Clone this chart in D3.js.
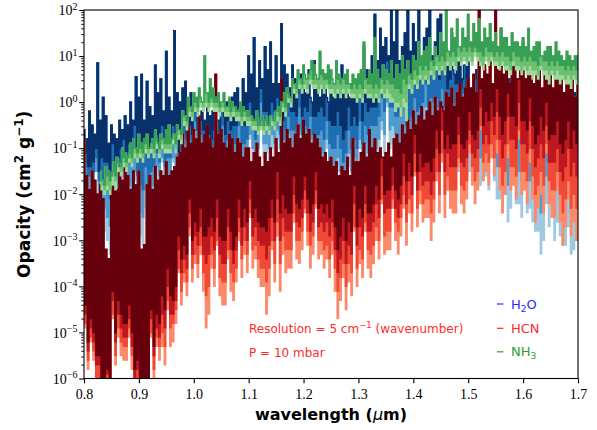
<!DOCTYPE html>
<html>
<head>
<meta charset="utf-8">
<script src="https://cdn.jsdelivr.net/npm/d3@7"></script>
<style>
  body { margin: 0; background: #fff; }
  svg { display: block; }
</style>
</head>
<body>
<svg id="chart" width="597" height="430"></svg>
<script>
// Opacity spectra at P = 10 mbar, binned to 5 cm^-1.
// Values are log10(opacity / cm^2 g^-1). Maxima are listed every 0.005 um from
// the first wavelength; minima sit half-way between consecutive maxima, one
// list per temperature shade (coolest first).

const h2oStart = 0.80;
const h2oPeaks = [
  -0.6, -0.8, -0.2, -0.5, -0.7, 0.85, -0.4, 0.1, -0.3, -0.9,
  -0.5, -0.7, -0.8, -0.4, -0.6, -0.3, -0.5, 0.0, -0.4, 0.55,
  0.1, 0.6, -0.4, 0.45, -0.1, -0.3, 0.8, 0.2, 0.5, -0.2,
  1.1, 0.1, -0.2, 1.55, 0.2, 0.0, 0.3, 0.45, -0.1, 0.2,
  0.2, -0.1, -0.3, -0.2, -0.4, -0.1, -0.3, -0.2, -0.1, -0.4,
  -0.2, -0.3, 0.0, -0.2, 0.1, 0.2, 0.3, -0.1, 0.5, 0.2,
  1.0, 0.6, 1.4, 0.3, 0.9, 0.5, 1.2, 0.7, 1.3, 0.4,
  1.0, 0.4, 1.7, 0.8, 0.6, 0.3, 0.8, 0.5, 0.2, 0.6,
  0.5, 0.2, 0.7, 0.0, 0.9, 0.3, 0.1, 0.4, 0.6, 0.0,
  0.4, 0.1, 0.2, 0.3, 0.8, 0.5, 0.7, 0.1, 0.2, 0.4,
  0.6, 0.3, 1.2, 0.7, 0.6, 1.0, 1.9, 0.9, 1.6, 1.2,
  1.4, 1.0, 2.0, 1.3, 2.1, 0.9, 1.2, 1.5, 2.1, 1.1,
  1.7, 1.3, 2.1, 0.9, 1.4, 1.6, 2.1, 1.0, 1.3, 1.8,
  1.9, 0.8, 1.2, 1.0, 1.5, 0.6, 1.1, 0.9, 0.5, 0.8,
  0.9, 0.3, 0.5, 0.7, 0.2, 0.4, 0.7, 0.1, 0.4, 0.3,
  0.6, 0.0, 0.3, 0.4, 0.1, 0.5, 0.2, 0.0, 0.4, 0.1,
  0.1, 0.2, -0.1, 0.3, 0.0, -0.2, 0.2, 0.1, -0.1, 0.0,
  1.1, 0.2, -0.1, 0.3, 0.0, -0.2, 0.4, 0.1, -0.1, 0.2,
  0.0
];
const h2oTroughLight = [
  -1.6, -2.1, -2.2, -2.0, -1.4, -2.2, -2.6, -2.8, -3.0, -3.3, -1.8, -2.4, -2.3, -2.0, -1.6, -2.1, -2.1, -2.3, -1.7, -2.6,
  -2.9, -3.1, -2.3, -2.9, -2.4, -2.2, -1.7, -2.0, -1.3, -2.1, -1.9, -1.9, -1.3, -1.8, -2.0, -1.7, -1.0, -1.6, -1.2, -1.5,
  -0.6, -1.4, -1.2, -1.5, -1.4, -1.4, -2.3, -2.0, -2.5, -3.0, -2.5, -3.4, -2.9, -3.2, -3.5, -3.5, -1.9, -2.5, -1.8, -1.6,
  -0.8, -1.3, -1.6, -1.4, -0.4, -1.2, -1.1, -1.3, -1.0, -1.3, -0.8, -1.4, -1.6, -1.3, -0.9, -1.4, -1.3, -1.5, -0.7, -1.6,
  -1.3, -1.5, -1.0, -1.6, -1.9, -1.7, -1.5, -1.8, -1.0, -1.8, -1.9, -1.9, -1.5, -2.0, -2.3, -2.0, -1.4, -2.0, -1.6, -1.9,
  -1.0, -1.8, -1.3, -1.6, -1.4, -1.4, -1.5, -1.2, -0.6, -1.1, -0.1, -1.0, -0.9, -1.2, -1.6, -1.6, -1.4, -2.0, -2.0, -1.8,
  -1.0, -1.5, -1.5, -1.3, -0.4, -1.2, -1.1, -1.3, -1.1, -1.4, -0.9, -1.5, -1.9, -1.6, -1.2, -1.7, -1.5, -1.7, -0.7, -1.6,
  -1.5, -1.7, -1.2, -1.8, -1.8, -1.6, -1.6, -1.9, -0.9, -1.7, -2.1, -2.1, -1.5, -2.0, -2.6, -2.3, -1.6, -2.2, -2.2, -2.5,
  -1.6, -2.4, -2.3, -2.6, -2.8, -2.8, -3.3, -3.0, -2.2, -2.7, -2.1, -3.0, -2.6, -2.9, -3.1, -3.1, -2.7, -3.3, -3.2, -3.0
];
const h2oTroughMid2 = [
  -1.6, -1.9, -1.9, -1.8, -1.5, -2.0, -2.2, -2.3, -2.5, -2.7, -1.6, -2.0, -1.9, -1.7, -1.5, -1.8, -1.8, -1.9, -1.5, -2.1,
  -2.4, -2.5, -1.9, -2.3, -1.9, -1.8, -1.4, -1.6, -1.2, -1.7, -1.6, -1.6, -1.2, -1.5, -1.6, -1.4, -0.9, -1.3, -1.0, -1.2,
  -0.6, -1.1, -1.0, -1.2, -1.2, -1.2, -1.6, -1.4, -1.3, -1.6, -1.1, -1.7, -1.4, -1.6, -1.5, -1.5, -0.9, -1.3, -1.3, -1.2,
  -0.7, -1.0, -1.1, -1.0, -0.4, -0.9, -0.9, -1.0, -0.7, -0.9, -0.6, -1.0, -1.1, -0.9, -0.7, -1.0, -1.0, -1.1, -0.6, -1.2,
  -1.0, -1.1, -0.8, -1.2, -1.3, -1.2, -1.1, -1.3, -0.8, -1.3, -1.4, -1.4, -1.2, -1.5, -1.7, -1.5, -1.1, -1.5, -1.2, -1.4,
  -0.8, -1.3, -0.9, -1.1, -1.0, -1.0, -1.0, -0.8, -0.4, -0.7, 0.0, -0.6, -0.5, -0.7, -0.9, -0.9, -0.8, -1.2, -1.2, -1.1,
  -0.5, -0.8, -0.8, -0.7, -0.1, -0.6, -0.6, -0.7, -0.6, -0.8, -0.4, -0.8, -1.1, -0.9, -0.7, -1.0, -0.9, -1.0, -0.4, -1.0,
  -1.0, -1.1, -0.8, -1.2, -1.2, -1.1, -1.0, -1.2, -0.7, -1.2, -1.4, -1.4, -1.1, -1.4, -1.8, -1.6, -1.2, -1.6, -1.5, -1.7,
  -1.2, -1.7, -1.7, -1.9, -2.0, -2.0, -2.4, -2.2, -1.6, -1.9, -1.6, -2.2, -1.9, -2.1, -2.2, -2.2, -2.0, -2.4, -2.3, -2.2
];
const h2oTroughMid1 = [
  -1.3, -1.6, -1.6, -1.5, -1.2, -1.7, -1.7, -1.8, -1.9, -2.1, -1.3, -1.7, -1.5, -1.3, -1.1, -1.4, -1.3, -1.4, -1.0, -1.6,
  -1.8, -1.9, -1.4, -1.8, -1.5, -1.4, -1.1, -1.3, -0.9, -1.4, -1.2, -1.2, -0.8, -1.1, -1.4, -1.2, -0.7, -1.1, -0.8, -1.0,
  -0.4, -0.9, -0.7, -0.9, -0.9, -0.9, -1.2, -1.0, -0.8, -1.1, -0.5, -1.1, -0.8, -1.0, -0.9, -0.9, -0.5, -0.9, -0.9, -0.8,
  -0.3, -0.6, -0.8, -0.7, 0.0, -0.5, -0.5, -0.6, -0.4, -0.6, -0.3, -0.7, -0.8, -0.6, -0.3, -0.6, -0.6, -0.7, -0.1, -0.7,
  -0.5, -0.6, -0.3, -0.7, -0.8, -0.7, -0.6, -0.8, -0.4, -0.9, -1.0, -1.0, -0.7, -1.0, -1.3, -1.1, -0.6, -1.0, -0.8, -1.0,
  -0.4, -0.9, -0.5, -0.7, -0.5, -0.5, -0.5, -0.3, 0.1, -0.2, 0.5, -0.1, -0.1, -0.3, -0.3, -0.3, -0.1, -0.5, -0.4, -0.3,
  0.1, -0.2, -0.1, 0.0, 0.4, -0.1, 0.1, 0.0, 0.1, -0.1, 0.3, -0.1, -0.4, -0.2, 0.0, -0.3, -0.3, -0.4, 0.2, -0.4,
  -0.3, -0.4, -0.1, -0.5, -0.6, -0.5, -0.4, -0.6, -0.1, -0.6, -0.7, -0.7, -0.5, -0.8, -1.0, -0.8, -0.5, -0.9, -0.8, -1.0,
  -0.5, -1.0, -0.9, -1.1, -1.1, -1.1, -1.5, -1.3, -0.9, -1.2, -0.7, -1.3, -1.2, -1.4, -1.4, -1.4, -1.2, -1.6, -1.5, -1.4
];
const h2oTroughHot = [
  -1.1, -1.4, -1.4, -1.3, -1.0, -1.5, -1.2, -1.3, -1.3, -1.5, -0.9, -1.3, -1.2, -1.0, -0.8, -1.1, -0.9, -1.0, -0.5, -1.1,
  -1.2, -1.3, -0.8, -1.2, -1.1, -1.0, -0.7, -0.9, -0.5, -1.0, -0.9, -0.9, -0.5, -0.8, -1.1, -0.9, -0.4, -0.8, -0.5, -0.7,
  -0.1, -0.6, -0.4, -0.6, -0.7, -0.7, -0.8, -0.6, -0.4, -0.7, -0.1, -0.7, -0.4, -0.6, -0.5, -0.5, -0.1, -0.5, -0.5, -0.4,
  0.0, -0.3, -0.4, -0.3, 0.3, -0.2, -0.2, -0.3, 0.0, -0.2, 0.1, -0.3, -0.4, -0.2, 0.1, -0.2, -0.2, -0.3, 0.3, -0.3,
  -0.1, -0.2, 0.1, -0.3, -0.3, -0.2, -0.1, -0.3, 0.1, -0.4, -0.5, -0.5, -0.2, -0.5, -0.8, -0.6, -0.1, -0.5, -0.3, -0.5,
  0.1, -0.4, 0.0, -0.2, -0.1, -0.1, -0.1, 0.1, 0.5, 0.2, 0.9, 0.3, 0.4, 0.2, 0.4, 0.4, 0.7, 0.3, 0.3, 0.4,
  0.8, 0.5, 0.5, 0.6, 1.0, 0.5, 0.7, 0.6, 0.7, 0.5, 1.0, 0.6, 0.3, 0.5, 0.7, 0.4, 0.4, 0.3, 0.8, 0.2,
  0.3, 0.2, 0.5, 0.1, -0.1, 0.0, 0.3, 0.1, 0.4, -0.1, 0.0, 0.0, 0.1, -0.2, -0.3, -0.1, 0.1, -0.3, 0.0, -0.2,
  0.2, -0.3, -0.2, -0.4, -0.3, -0.3, -0.7, -0.5, -0.1, -0.4, 0.1, -0.5, -0.4, -0.6, -0.5, -0.5, -0.3, -0.7, -0.7, -0.6
];

const hcnStart = 0.80;
const hcnPeaks = [
  -0.8, -1.6, -1.9, -1.5, -1.7, -2.0, -1.8, -2.1, -3.2, -3.4,
  -1.8, -1.5, -1.9, -1.4, -1.7, -1.3, -1.6, -1.9, -1.5, -1.8,
  -1.5, -3.2, -3.1, -1.8, -1.6, -1.9, -1.4, -1.7, -1.5, -1.6,
  -1.3, -1.6, -1.5, -1.4, -1.2, -1.1, -0.7, -1.0, -0.5, -0.9,
  -0.6, -0.8, -0.3, -0.9, -0.7, -0.5, -0.8, -1.0, 0.6, -0.7,
  -0.6, -0.9, -1.0, -0.7, -0.8, -1.1, -0.8, -0.9, -1.2, -1.0,
  -1.0, -1.3, -1.1, -0.9, -1.2, -1.4, -1.1, -1.3, -1.0, -1.2,
  -0.8, -1.1, 0.5, -0.9, -0.6, -0.8, -1.0, -0.7, -0.5, -0.8,
  -0.4, -0.7, -0.6, -0.9, -0.7, -0.8, -1.0, -1.2, -1.1, -1.3,
  -1.2, -1.4, -1.3, -1.6, -1.4, -1.5, -1.2, -1.6, -0.8, -1.3,
  -1.3, -1.1, -0.9, -1.2, -0.6, -1.0, -0.8, -1.1, -1.0, -1.2,
  -1.1, -0.9, -1.2, -0.8, -0.7, -0.9, -0.5, -0.7, -0.4, -0.6,
  -0.2, -0.5, -0.3, -0.1, -0.4, -0.2, 0.0, -0.3, 0.1, -0.2,
  0.0, -0.2, 0.2, 0.1, 0.3, -0.1, 0.2, 0.4, 0.1, 0.3,
  0.5, 0.3, 0.6, 0.2, 2.1, 0.5, 0.8, 0.6, 1.0, 0.4,
  2.1, 0.7, 1.6, 0.6, 0.9, 0.4, 1.2, 0.8, 0.5, 0.7,
  1.3, 0.5, 0.9, 0.7, 0.4, 0.6, 1.2, 0.3, 0.7, 0.5,
  0.9, 0.3, 0.6, 0.5, 0.8, 0.2, 0.5, 0.4, 0.7, 0.1,
  0.4
];
const hcnTroughLight = [
  -4.9, -5.8, -5.2, -5.6, -6.2, -6.2, -6.9, -6.5, -6.1, -6.5, -4.7, -5.7, -5.1, -5.5, -5.6, -5.6, -5.1, -5.8, -6.6, -6.3,
  -6.1, -6.5, -6.8, -6.5, -5.1, -6.0, -5.3, -5.6, -5.3, -5.7, -4.5, -5.3, -5.2, -4.8, -3.7, -4.4, -3.9, -4.2, -2.9, -3.9,
  -3.5, -3.8, -3.3, -4.1, -4.9, -4.6, -3.6, -4.0, -3.1, -4.2, -4.4, -4.4, -3.4, -4.1, -4.3, -3.9, -3.0, -3.8, -3.3, -3.7,
  -2.5, -3.6, -3.4, -3.8, -4.0, -4.0, -4.6, -4.2, -3.2, -3.9, -2.9, -4.1, -3.3, -3.7, -3.6, -3.6, -2.6, -3.4, -3.5, -3.2,
  -2.4, -3.1, -3.6, -3.3, -2.3, -3.4, -3.3, -3.6, -3.4, -3.8, -3.3, -4.1, -4.7, -4.3, -3.8, -4.5, -3.9, -4.2, -2.8, -4.0,
  -3.5, -3.8, -2.8, -3.6, -3.8, -3.5, -3.0, -3.4, -2.2, -3.3, -3.2, -3.2, -2.3, -3.0, -3.3, -2.9, -2.3, -3.1, -2.4, -2.8,
  -1.6, -2.7, -2.2, -2.6, -2.5, -2.5, -3.0, -2.6, -1.7, -2.4, -1.3, -2.5, -1.9, -2.3, -2.4, -2.4, -1.4, -2.2, -2.4, -2.1,
  -1.1, -1.8, -2.2, -1.9, -0.6, -1.7, -1.5, -1.8, -1.2, -1.6, -1.1, -1.9, -2.4, -2.0, -1.2, -1.9, -1.8, -2.1, -0.8, -2.0,
  -1.9, -2.2, -1.3, -2.1, -2.6, -2.3, -2.0, -2.4, -1.1, -2.2, -2.5, -2.5, -1.9, -2.6, -3.1, -2.7, -2.1, -2.9, -2.6, -3.0
];
const hcnTroughMid2 = [
  -4.8, -5.6, -5.1, -5.4, -6.0, -6.0, -6.8, -6.5, -6.0, -6.5, -4.6, -5.5, -4.9, -5.2, -5.3, -5.3, -4.9, -5.5, -6.3, -6.1,
  -6.0, -6.5, -6.7, -6.5, -5.0, -5.8, -5.1, -5.3, -5.0, -5.3, -4.3, -4.9, -4.8, -4.5, -3.6, -4.1, -3.7, -3.9, -2.7, -3.6,
  -3.3, -3.5, -3.1, -3.7, -4.2, -4.0, -3.3, -3.6, -3.0, -3.8, -3.9, -3.9, -3.2, -3.7, -3.9, -3.6, -2.8, -3.4, -3.0, -3.3,
  -2.4, -3.2, -3.1, -3.4, -3.6, -3.6, -3.9, -3.6, -3.0, -3.5, -2.6, -3.5, -2.9, -3.2, -3.2, -3.2, -2.4, -3.0, -3.0, -2.8,
  -2.3, -2.8, -3.1, -2.9, -2.2, -3.0, -3.0, -3.2, -3.1, -3.4, -3.0, -3.6, -4.1, -3.8, -3.5, -4.0, -3.5, -3.7, -2.7, -3.6,
  -3.2, -3.4, -2.6, -3.2, -3.3, -3.1, -2.7, -3.0, -2.1, -2.9, -2.8, -2.8, -2.1, -2.6, -2.8, -2.5, -2.0, -2.6, -2.1, -2.4,
  -1.5, -2.3, -1.9, -2.2, -2.1, -2.1, -2.4, -2.1, -1.5, -2.0, -1.1, -2.0, -1.6, -1.9, -1.9, -1.9, -1.2, -1.8, -1.9, -1.7,
  -0.9, -1.4, -1.7, -1.5, -0.5, -1.3, -1.1, -1.3, -0.9, -1.2, -0.8, -1.4, -1.8, -1.5, -0.9, -1.4, -1.4, -1.6, -0.6, -1.5,
  -1.5, -1.7, -1.0, -1.6, -2.0, -1.8, -1.5, -1.8, -0.9, -1.7, -1.9, -1.9, -1.5, -2.0, -2.4, -2.1, -1.7, -2.3, -2.0, -2.3
];
const hcnTroughMid1 = [
  -4.6, -5.4, -4.9, -5.2, -5.7, -5.7, -6.8, -6.5, -5.9, -6.4, -4.3, -5.2, -4.6, -4.9, -5.1, -5.1, -4.7, -5.3, -6.0, -5.8,
  -6.0, -6.5, -6.6, -6.4, -4.7, -5.5, -4.9, -5.1, -4.6, -4.9, -4.0, -4.6, -4.6, -4.3, -3.2, -3.7, -3.4, -3.6, -2.4, -3.3,
  -2.9, -3.1, -2.7, -3.3, -3.5, -3.3, -2.9, -3.2, -2.5, -3.3, -3.5, -3.5, -2.7, -3.2, -3.5, -3.2, -2.5, -3.1, -2.7, -3.0,
  -2.1, -2.9, -2.7, -3.0, -3.1, -3.1, -3.4, -3.1, -2.5, -3.0, -2.1, -3.0, -2.5, -2.8, -2.8, -2.8, -2.0, -2.6, -2.7, -2.5,
  -1.9, -2.4, -2.8, -2.6, -1.9, -2.7, -2.6, -2.8, -2.6, -2.9, -2.6, -3.2, -3.7, -3.4, -3.0, -3.5, -3.1, -3.3, -2.2, -3.1,
  -2.7, -2.9, -2.2, -2.8, -2.8, -2.6, -2.2, -2.5, -1.6, -2.4, -2.3, -2.3, -1.8, -2.3, -2.5, -2.2, -1.6, -2.2, -1.7, -2.0,
  -1.1, -1.9, -1.5, -1.8, -1.7, -1.7, -2.0, -1.7, -1.0, -1.5, -0.6, -1.5, -1.1, -1.4, -1.4, -1.4, -0.7, -1.3, -1.4, -1.2,
  -0.6, -1.1, -1.2, -1.0, -0.1, -0.9, -0.7, -0.9, -0.4, -0.7, -0.2, -0.8, -1.2, -0.9, -0.3, -0.8, -0.8, -1.0, 0.0, -0.9,
  -0.9, -1.1, -0.4, -1.0, -1.4, -1.2, -0.9, -1.2, -0.5, -1.3, -1.3, -1.3, -1.0, -1.5, -1.7, -1.4, -1.0, -1.6, -1.3, -1.6
];
const hcnTroughHot = [
  -4.4, -5.2, -4.7, -5.0, -5.5, -5.5, -6.8, -6.5, -5.8, -6.3, -4.1, -5.0, -4.3, -4.6, -4.8, -4.8, -4.4, -5.0, -5.8, -5.6,
  -6.0, -6.5, -6.5, -6.3, -4.5, -5.3, -4.6, -4.8, -4.2, -4.5, -3.6, -4.2, -4.3, -4.0, -2.9, -3.4, -3.1, -3.3, -2.1, -3.0,
  -2.6, -2.8, -2.3, -2.9, -2.9, -2.7, -2.5, -2.8, -2.1, -2.9, -3.0, -3.0, -2.3, -2.8, -3.2, -2.9, -2.1, -2.7, -2.3, -2.6,
  -1.7, -2.5, -2.3, -2.6, -2.7, -2.7, -2.8, -2.5, -2.1, -2.6, -1.5, -2.4, -2.0, -2.3, -2.4, -2.4, -1.6, -2.2, -2.3, -2.1,
  -1.6, -2.1, -2.4, -2.2, -1.5, -2.3, -2.2, -2.4, -2.2, -2.5, -2.1, -2.7, -3.2, -2.9, -2.5, -3.0, -2.6, -2.8, -1.8, -2.7,
  -2.3, -2.5, -1.8, -2.4, -2.4, -2.2, -1.8, -2.1, -1.2, -2.0, -1.9, -1.9, -1.4, -1.9, -2.1, -1.8, -1.1, -1.7, -1.3, -1.6,
  -0.7, -1.5, -1.1, -1.4, -1.3, -1.3, -1.5, -1.2, -0.6, -1.1, -0.1, -1.0, -0.7, -1.0, -0.9, -0.9, -0.3, -0.9, -1.0, -0.8,
  -0.2, -0.7, -0.8, -0.6, 0.3, -0.5, -0.2, -0.4, 0.0, -0.3, 0.3, -0.3, -0.7, -0.4, 0.2, -0.3, -0.3, -0.5, 0.5, -0.4,
  -0.4, -0.6, 0.1, -0.5, -0.9, -0.7, -0.3, -0.6, 0.0, -0.8, -0.7, -0.7, -0.4, -0.9, -1.1, -0.8, -0.4, -1.0, -0.6, -0.9
];

const nh3Start = 0.83;
const nh3Peaks = [
  -1.5, -1.7, -1.4, -1.5, -1.6, -1.3, -1.2, -1.4, -1.0, -1.1, -1.2, -0.9, -0.8, -1.0,
  -0.7, -0.9, -0.8, -0.7, -1.0, -0.8, -0.6, -0.9, -0.7, -0.8, -0.6, -0.5, -0.8, -0.7, -0.5, -0.6, -0.2, -0.3, 0.1, -0.1,
  0.2, 0.1, 0.3, 0.0, 1.0, 0.2, 0.5, 0.3, 0.1, 0.2, 0.0, 0.2, -0.1, 0.1, 0.0, -0.1, -0.2, 0.0, -0.1, -0.2,
  -0.2, -0.3, -0.4, -0.2, -0.5, -0.3, -0.4, -0.5, -0.3, -0.4, -0.2, -0.1, 0.0, 0.2, 0.3, 0.1, 0.5, 0.4, 0.7, 0.5,
  0.8, 0.5, 0.6, 0.9, 0.8, 0.5, 1.1, 0.7, 0.6, 0.8, 0.7, 0.4, 0.9, 0.6, 0.5, 0.6, 0.7, 0.4, 0.6, 0.5,
  0.6, 0.7, 1.3, 0.5, 0.7, 0.6, 1.4, 0.7, 0.5, 0.8, 0.7, 0.6, 0.9, 0.5, 0.8, 0.6, 1.0, 0.7, 0.9, 0.6,
  1.0, 0.9, 1.3, 1.0, 1.1, 1.2, 1.4, 0.9, 1.2, 1.0, 1.5, 1.3, 2.0, 1.1, 1.6, 1.4, 1.8, 1.2, 1.6, 1.4,
  1.9, 1.3, 1.7, 1.5, 1.8, 1.3, 1.6, 1.4, 1.7, 1.3, 1.5, 1.2, 1.6, 1.4, 1.4, 1.2, 1.5, 1.3, 1.3, 1.2,
  1.4, 1.2, 1.6, 1.1, 1.2, 1.3, 1.3, 1.0, 1.1, 1.2, 1.2, 1.0, 1.3, 1.1, 1.0, 0.9, 1.1, 1.0, 0.9, 1.0,
  1.0
];
const nh3TroughLight = [
  -1.9, -2.0, -1.9, -2.0, -1.8, -1.9, -1.5, -1.6, -1.4, -1.5, -1.3, -1.4, -1.2, -1.3,
  -1.2, -1.3, -1.1, -1.2, -1.1, -1.2, -1.0, -1.2, -1.0, -1.1, -1.1, -1.1, -0.9, -1.1, -0.8, -0.9, -0.5, -0.6, -0.3, -0.4,
  -0.2, -0.3, -0.1, -0.2, -0.1, -0.2, -0.1, -0.2, -0.2, -0.3, -0.2, -0.3, -0.3, -0.4, -0.3, -0.4, -0.4, -0.5, -0.4, -0.5,
  -0.5, -0.6, -0.6, -0.7, -0.6, -0.7, -0.6, -0.7, -0.5, -0.6, -0.4, -0.5, -0.2, -0.3, 0.0, -0.1, 0.2, 0.1, 0.3, 0.2,
  0.3, 0.2, 0.4, 0.3, 0.3, 0.2, 0.3, 0.2, 0.3, 0.2, 0.2, 0.1, 0.2, 0.1, 0.2, 0.1, 0.2, 0.1, 0.1, 0.0,
  0.1, 0.0, 0.2, 0.1, 0.1, 0.0, 0.1, 0.0, 0.2, 0.1, 0.1, 0.0, 0.0, -0.2, -0.1, -0.3, -0.1, -0.4, 0.3, 0.2,
  0.4, 0.3, 0.5, 0.4, 0.5, 0.4, 0.6, 0.5, 0.7, 0.6, 0.7, 0.6, 0.8, 0.7, 0.8, 0.7, 0.9, 0.8, 0.9, 0.8,
  0.9, 0.8, 1.0, 0.9, 0.8, 0.7, 0.9, 0.8, 0.9, 0.8, 0.8, 0.7, 0.8, 0.7, 0.7, 0.6, 0.8, 0.7, 0.7, 0.6,
  0.7, 0.6, 0.6, 0.5, 0.6, 0.5, 0.7, 0.6, 0.5, 0.4, 0.6, 0.5, 0.5, 0.4, 0.5, 0.4, 0.4, 0.3, 0.5, 0.4
];
const nh3TroughMid = [
  -1.8, -1.9, -1.8, -1.9, -1.6, -1.7, -1.4, -1.5, -1.3, -1.4, -1.2, -1.3, -1.1, -1.2,
  -1.1, -1.2, -1.0, -1.1, -1.0, -1.1, -0.9, -1.1, -0.9, -1.0, -1.0, -1.0, -0.8, -1.0, -0.7, -0.8, -0.4, -0.5, -0.2, -0.3,
  -0.1, -0.2, 0.0, -0.1, 0.0, -0.1, 0.0, -0.1, -0.1, -0.2, -0.1, -0.2, -0.2, -0.3, -0.2, -0.3, -0.3, -0.4, -0.3, -0.4,
  -0.4, -0.5, -0.5, -0.6, -0.5, -0.6, -0.5, -0.6, -0.4, -0.5, -0.3, -0.4, -0.1, -0.2, 0.1, 0.0, 0.3, 0.2, 0.4, 0.3,
  0.4, 0.3, 0.5, 0.4, 0.4, 0.3, 0.4, 0.3, 0.4, 0.3, 0.3, 0.2, 0.3, 0.2, 0.3, 0.2, 0.3, 0.2, 0.2, 0.1,
  0.2, 0.1, 0.3, 0.2, 0.2, 0.1, 0.2, 0.1, 0.3, 0.2, 0.3, 0.2, 0.1, 0.0, 0.0, -0.1, 0.1, 0.0, 0.4, 0.3,
  0.5, 0.4, 0.6, 0.5, 0.6, 0.5, 0.7, 0.6, 0.8, 0.7, 0.8, 0.7, 0.9, 0.8, 0.9, 0.8, 1.0, 0.9, 1.0, 0.9,
  1.0, 0.9, 1.1, 1.0, 0.9, 0.8, 1.0, 0.9, 1.0, 0.9, 0.9, 0.8, 0.9, 0.8, 0.8, 0.7, 0.9, 0.8, 0.8, 0.7,
  0.8, 0.7, 0.8, 0.7, 0.7, 0.6, 0.8, 0.7, 0.7, 0.6, 0.7, 0.6, 0.7, 0.6, 0.6, 0.5, 0.6, 0.5, 0.6, 0.5
];
const nh3TroughHot = [
  -1.7, -1.8, -1.6, -1.7, -1.5, -1.6, -1.3, -1.4, -1.2, -1.3, -1.1, -1.2, -1.0, -1.1,
  -1.0, -1.1, -0.9, -1.0, -0.9, -1.0, -0.8, -1.0, -0.8, -0.9, -0.9, -0.9, -0.7, -0.9, -0.6, -0.7, -0.3, -0.4, -0.1, -0.2,
  0.0, -0.1, 0.1, 0.0, 0.2, 0.0, 0.1, 0.0, 0.0, -0.1, 0.0, -0.1, -0.1, -0.2, -0.1, -0.2, -0.2, -0.3, -0.2, -0.3,
  -0.3, -0.4, -0.4, -0.5, -0.4, -0.5, -0.3, -0.5, -0.3, -0.4, -0.2, -0.3, 0.0, -0.1, 0.2, 0.1, 0.4, 0.3, 0.5, 0.4,
  0.6, 0.5, 0.7, 0.5, 0.6, 0.5, 0.6, 0.5, 0.5, 0.4, 0.5, 0.4, 0.5, 0.4, 0.5, 0.4, 0.4, 0.3, 0.4, 0.3,
  0.4, 0.3, 0.5, 0.4, 0.4, 0.3, 0.4, 0.3, 0.5, 0.4, 0.5, 0.4, 0.4, 0.3, 0.3, 0.2, 0.5, 0.4, 0.6, 0.5,
  0.7, 0.6, 0.8, 0.7, 0.8, 0.7, 0.9, 0.8, 1.0, 0.9, 1.0, 0.9, 1.1, 1.0, 1.1, 1.0, 1.2, 1.1, 1.2, 1.1,
  1.2, 1.1, 1.2, 1.1, 1.1, 1.0, 1.2, 1.1, 1.1, 1.0, 1.1, 1.0, 1.1, 1.0, 1.0, 0.9, 1.1, 1.0, 1.0, 0.9,
  1.0, 0.9, 1.0, 0.9, 0.9, 0.8, 1.0, 0.9, 0.9, 0.8, 0.9, 0.8, 0.9, 0.8, 0.8, 0.7, 0.8, 0.7, 0.8, 0.7
];

const sampleStep = 0.005;
const xTicks = [0.8, 0.9, 1.0, 1.1, 1.2, 1.3, 1.4, 1.5, 1.6, 1.7];
const yTickExponents = [-6, -5, -4, -3, -2, -1, 0, 1, 2];
const legendLabels = [["H", "2", "O"], ["HCN", "", ""], ["NH", "3", ""]];
const noteLines = ["Resolution = 5 cm", "P = 10 mbar"];

// shade colours, coolest (lightest) first; the hottest is drawn last, on top
const h2oColors = ["#9ecae1", "#4f9bcf", "#1f6eb3", "#08306b"];
const hcnColors = ["#fc8a6a", "#f04a36", "#bd1720", "#67000d"];
const nh3Colors = ["#a1d99b", "#6cc072", "#37a055"];
const labelColors = ["#2a2aff", "#ff2a2a", "#2ca02c"];

const species = [
  { start: h2oStart, peaks: h2oPeaks, troughs: [h2oTroughLight, h2oTroughMid2, h2oTroughMid1, h2oTroughHot], colors: h2oColors },
  { start: hcnStart, peaks: hcnPeaks, troughs: [hcnTroughLight, hcnTroughMid2, hcnTroughMid1, hcnTroughHot], colors: hcnColors },
  { start: nh3Start, peaks: nh3Peaks, troughs: [nh3TroughLight, nh3TroughMid, nh3TroughHot], colors: nh3Colors }
];

const plot = { left: 84, right: 578, top: 10, bottom: 378.5 };
const x = d3.scaleLinear().domain([0.8, 1.7]).range([plot.left, plot.right]);
const y = d3.scaleLog().domain([1e-6, 1e2]).range([plot.bottom, plot.top]);

const svg = d3.select("#chart");
svg.append("defs").append("clipPath").attr("id", "plot-area")
  .append("rect")
  .attr("x", plot.left).attr("y", plot.top)
  .attr("width", plot.right - plot.left).attr("height", plot.bottom - plot.top);

// interleave maxima and minima into one spectrum of (wavelength, log10 opacity)
function spectrum(start, peaks, troughs) {
  const pts = [];
  peaks.forEach((p, i) => {
    pts.push([start + i * sampleStep, p]);
    if (i < troughs.length) pts.push([start + (i + 0.5) * sampleStep, troughs[i]]);
  });
  return pts;
}

const colWidth = x(0.8 + sampleStep / 2) - x(0.8);
const line = d3.line()
  .x(d => x(d[0]))
  .y(d => y(Math.pow(10, d[1])))
  .curve(d3.curveStep);

const spectra = svg.append("g").attr("clip-path", "url(#plot-area)");
species.forEach(sp => {
  sp.troughs.forEach((tr, k) => {
    spectra.append("path")
      .datum(spectrum(sp.start, sp.peaks, tr))
      .attr("d", line)
      .attr("fill", "none")
      .attr("stroke", sp.colors[k])
      .attr("stroke-width", colWidth + 0.1)
      .attr("stroke-linejoin", "miter");
  });
});

// axes
const serif = "'Liberation Serif', 'Times New Roman', serif";
const sans = "'DejaVu Sans', sans-serif";

const gx = svg.append("g")
  .attr("transform", `translate(0,${plot.bottom})`)
  .call(d3.axisBottom(x).tickValues(xTicks).tickSize(4.8).tickPadding(5.3)
    .tickFormat(d => d3.format(".1f")(d)));
gx.select(".domain").remove();
gx.selectAll("line").attr("stroke", "#000").attr("stroke-width", 1.1);
gx.selectAll("text").attr("font-family", serif).attr("font-size", 14).attr("fill", "#000");

const minorValues = [];
for (let e = -6; e < 2; e++) for (let m = 2; m <= 9; m++) minorValues.push(m * Math.pow(10, e));

const gyMinor = svg.append("g").attr("transform", `translate(${plot.left},0)`)
  .call(d3.axisLeft(y).tickValues(minorValues).tickSize(2.8).tickFormat(""));
gyMinor.select(".domain").remove();
gyMinor.selectAll("line").attr("stroke", "#000").attr("stroke-width", 0.9);

const gy = svg.append("g").attr("transform", `translate(${plot.left},0)`)
  .call(d3.axisLeft(y).tickValues(yTickExponents.map(e => Math.pow(10, e))).tickSize(4.8).tickFormat(""));
gy.select(".domain").remove();
gy.selectAll("line").attr("stroke", "#000").attr("stroke-width", 1.1);

yTickExponents.forEach(e => {
  const t = svg.append("text")
    .attr("x", 77.5).attr("y", y(Math.pow(10, e)) + 5.3)
    .attr("text-anchor", "end")
    .attr("font-family", serif).attr("font-size", 14).attr("fill", "#000");
  t.append("tspan").text("10");
  t.append("tspan").attr("dy", -5.5).attr("font-size", 10)
    .text(e < 0 ? "\u2212" + (-e) : String(e));
});

// frame
svg.append("rect")
  .attr("x", plot.left).attr("y", plot.top)
  .attr("width", plot.right - plot.left).attr("height", plot.bottom - plot.top)
  .attr("fill", "none").attr("stroke", "#000").attr("stroke-width", 1.1);

// axis titles
const xl = svg.append("text")
  .attr("x", (plot.left + plot.right) / 2).attr("y", 419.5)
  .attr("text-anchor", "middle")
  .attr("font-family", sans).attr("font-weight", "bold").attr("font-size", 16).attr("fill", "#000");
xl.append("tspan").text("wavelength (");
xl.append("tspan").attr("font-style", "italic").attr("font-weight", "normal").text("\u03bc");
xl.append("tspan").text("m)");

const yl = svg.append("text")
  .attr("transform", `translate(29.5,${(plot.top + plot.bottom) / 2}) rotate(-90)`)
  .attr("text-anchor", "middle")
  .attr("font-family", sans).attr("font-weight", "bold").attr("font-size", 17).attr("fill", "#000");
yl.append("tspan").text("Opacity (cm");
yl.append("tspan").attr("dy", -7).attr("font-size", 12).text("2");
yl.append("tspan").attr("dy", 7).text(" g");
yl.append("tspan").attr("dy", -7).attr("font-size", 12).text("\u22121");
yl.append("tspan").attr("dy", 7).text(")");

// notes
const note1 = svg.append("text")
  .attr("x", 249).attr("y", 332.5)
  .attr("font-family", sans).attr("font-size", 12).attr("fill", labelColors[1]);
note1.append("tspan").text(noteLines[0]);
note1.append("tspan").attr("dy", -5).attr("font-size", 8.5).text("\u22121");
note1.append("tspan").attr("dy", 5).text(" (wavenumber)");
svg.append("text")
  .attr("x", 249).attr("y", 356.5)
  .attr("font-family", sans).attr("font-size", 12).attr("fill", labelColors[1])
  .text(noteLines[1]);

// legend
const legendY = [304, 328.3, 351.8];
legendLabels.forEach((lab, i) => {
  svg.append("line")
    .attr("x1", 497).attr("x2", 503.5)
    .attr("y1", legendY[i]).attr("y2", legendY[i])
    .attr("stroke", labelColors[i]).attr("stroke-width", 1.2);
  const t = svg.append("text")
    .attr("x", 511).attr("y", legendY[i] + 4.6)
    .attr("font-family", sans).attr("font-size", 13).attr("fill", labelColors[i]);
  t.append("tspan").text(lab[0]);
  if (lab[1]) {
    t.append("tspan").attr("dy", 3).attr("font-size", 9).text(lab[1]);
    if (lab[2]) t.append("tspan").attr("dy", -3).text(lab[2]);
  }
});
</script>
</body>
</html>
